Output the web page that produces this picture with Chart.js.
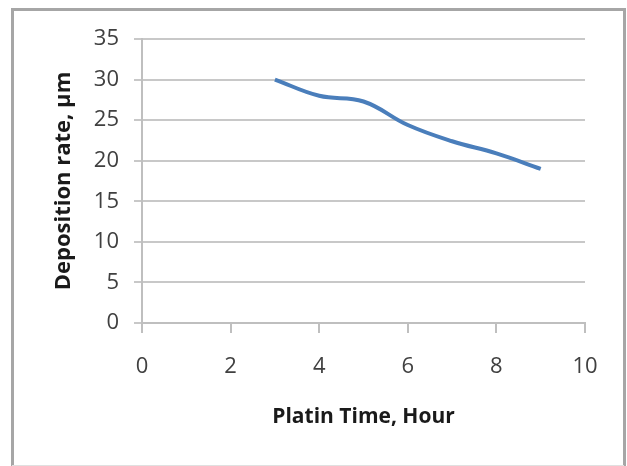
<!DOCTYPE html>
<html>
<head>
<meta charset="utf-8">
<script src="https://cdn.jsdelivr.net/npm/chart.js@4/dist/chart.umd.min.js"></script>
<style>
  html, body { margin: 0; padding: 0; background: #ffffff; }
  #wrap { width: 627px; height: 466px; position: relative; }
</style>
</head>
<body>
<div id="wrap"><canvas id="chart" width="627" height="466"></canvas></div>
<script>
// Plating time (hours) and deposition rate (µm)
const platingHours = [3, 4, 5, 6, 7, 8, 9];
const depositionRate = [30, 28, 27.3, 24.4, 22.4, 20.9, 19];
const xTickValues = [0, 2, 4, 6, 8, 10];
const yTickValues = [0, 5, 10, 15, 20, 25, 30, 35];

const xTitle = 'Platin Time, Hour';
const yTitle = 'Deposition rate, \u00b5m';

const points = platingHours.map((h, i) => ({ x: h, y: depositionRate[i] }));

// Frame drawn around the whole figure
const framePlugin = {
  id: 'frame',
  afterDraw(chart) {
    const ctx = chart.ctx;
    ctx.save();
    ctx.strokeStyle = '#a6a6a6';
    ctx.lineWidth = 3;
    ctx.beginPath();
    ctx.moveTo(12.5, 466);
    ctx.lineTo(12.5, 9.5);
    ctx.lineTo(624.5, 9.5);
    ctx.lineTo(624.5, 466);
    ctx.stroke();
    ctx.strokeStyle = '#e0e0e0';
    ctx.lineWidth = 1;
    ctx.beginPath();
    ctx.moveTo(12, 465.5);
    ctx.lineTo(624, 465.5);
    ctx.stroke();
    ctx.restore();
  }
};

const tickFont = { family: 'Open Sans', size: 22 };
const xTitleFont = { family: 'Open Sans', size: 21, weight: 'bold' };
const yTitleFont = { family: 'Open Sans', size: 22, weight: 'bold' };

new Chart(document.getElementById('chart'), {
  type: 'scatter',
  data: {
    datasets: [{
      data: points,
      showLine: true,
      borderColor: '#4a7ebb',
      borderWidth: 4,
      pointRadius: 0,
      pointHoverRadius: 0,
      tension: 0.4,
      fill: false
    }]
  },
  options: {
    responsive: false,
    animation: false,
    events: [],
    layout: { padding: { left: 0, top: 39, right: 42, bottom: 0 } },
    plugins: {
      legend: { display: false },
      tooltip: { enabled: false }
    },
    scales: {
      x: {
        type: 'linear',
        min: 0,
        max: 10,
        afterBuildTicks(scale) { scale.ticks = xTickValues.map(v => ({ value: v })); },
        afterFit(scale) { scale.height = 143; },
        ticks: { font: tickFont, color: '#404040', padding: 21, maxRotation: 0 },
        grid: { drawOnChartArea: false, drawTicks: true, tickLength: 10, color: '#bfbfbf', lineWidth: 2 },
        border: { color: '#bfbfbf', width: 2 },
        title: { display: true, text: xTitle, font: xTitleFont, color: '#1a1a1a', padding: { top: 0, bottom: 36 } }
      },
      y: {
        type: 'linear',
        min: 0,
        max: 35,
        afterBuildTicks(scale) { scale.ticks = yTickValues.map(v => ({ value: v })); },
        afterFit(scale) { scale.width = 142; },
        ticks: { font: tickFont, color: '#404040', padding: 15 },
        grid: { drawOnChartArea: true, drawTicks: true, tickLength: 8, color: '#c8c8c8', lineWidth: 2 },
        border: { color: '#bfbfbf', width: 2 },
        title: { display: true, text: yTitle, font: yTitleFont, color: '#1a1a1a', padding: { top: 51, bottom: 0 } }
      }
    }
  },
  plugins: [framePlugin]
});
</script>
</body>
</html>
